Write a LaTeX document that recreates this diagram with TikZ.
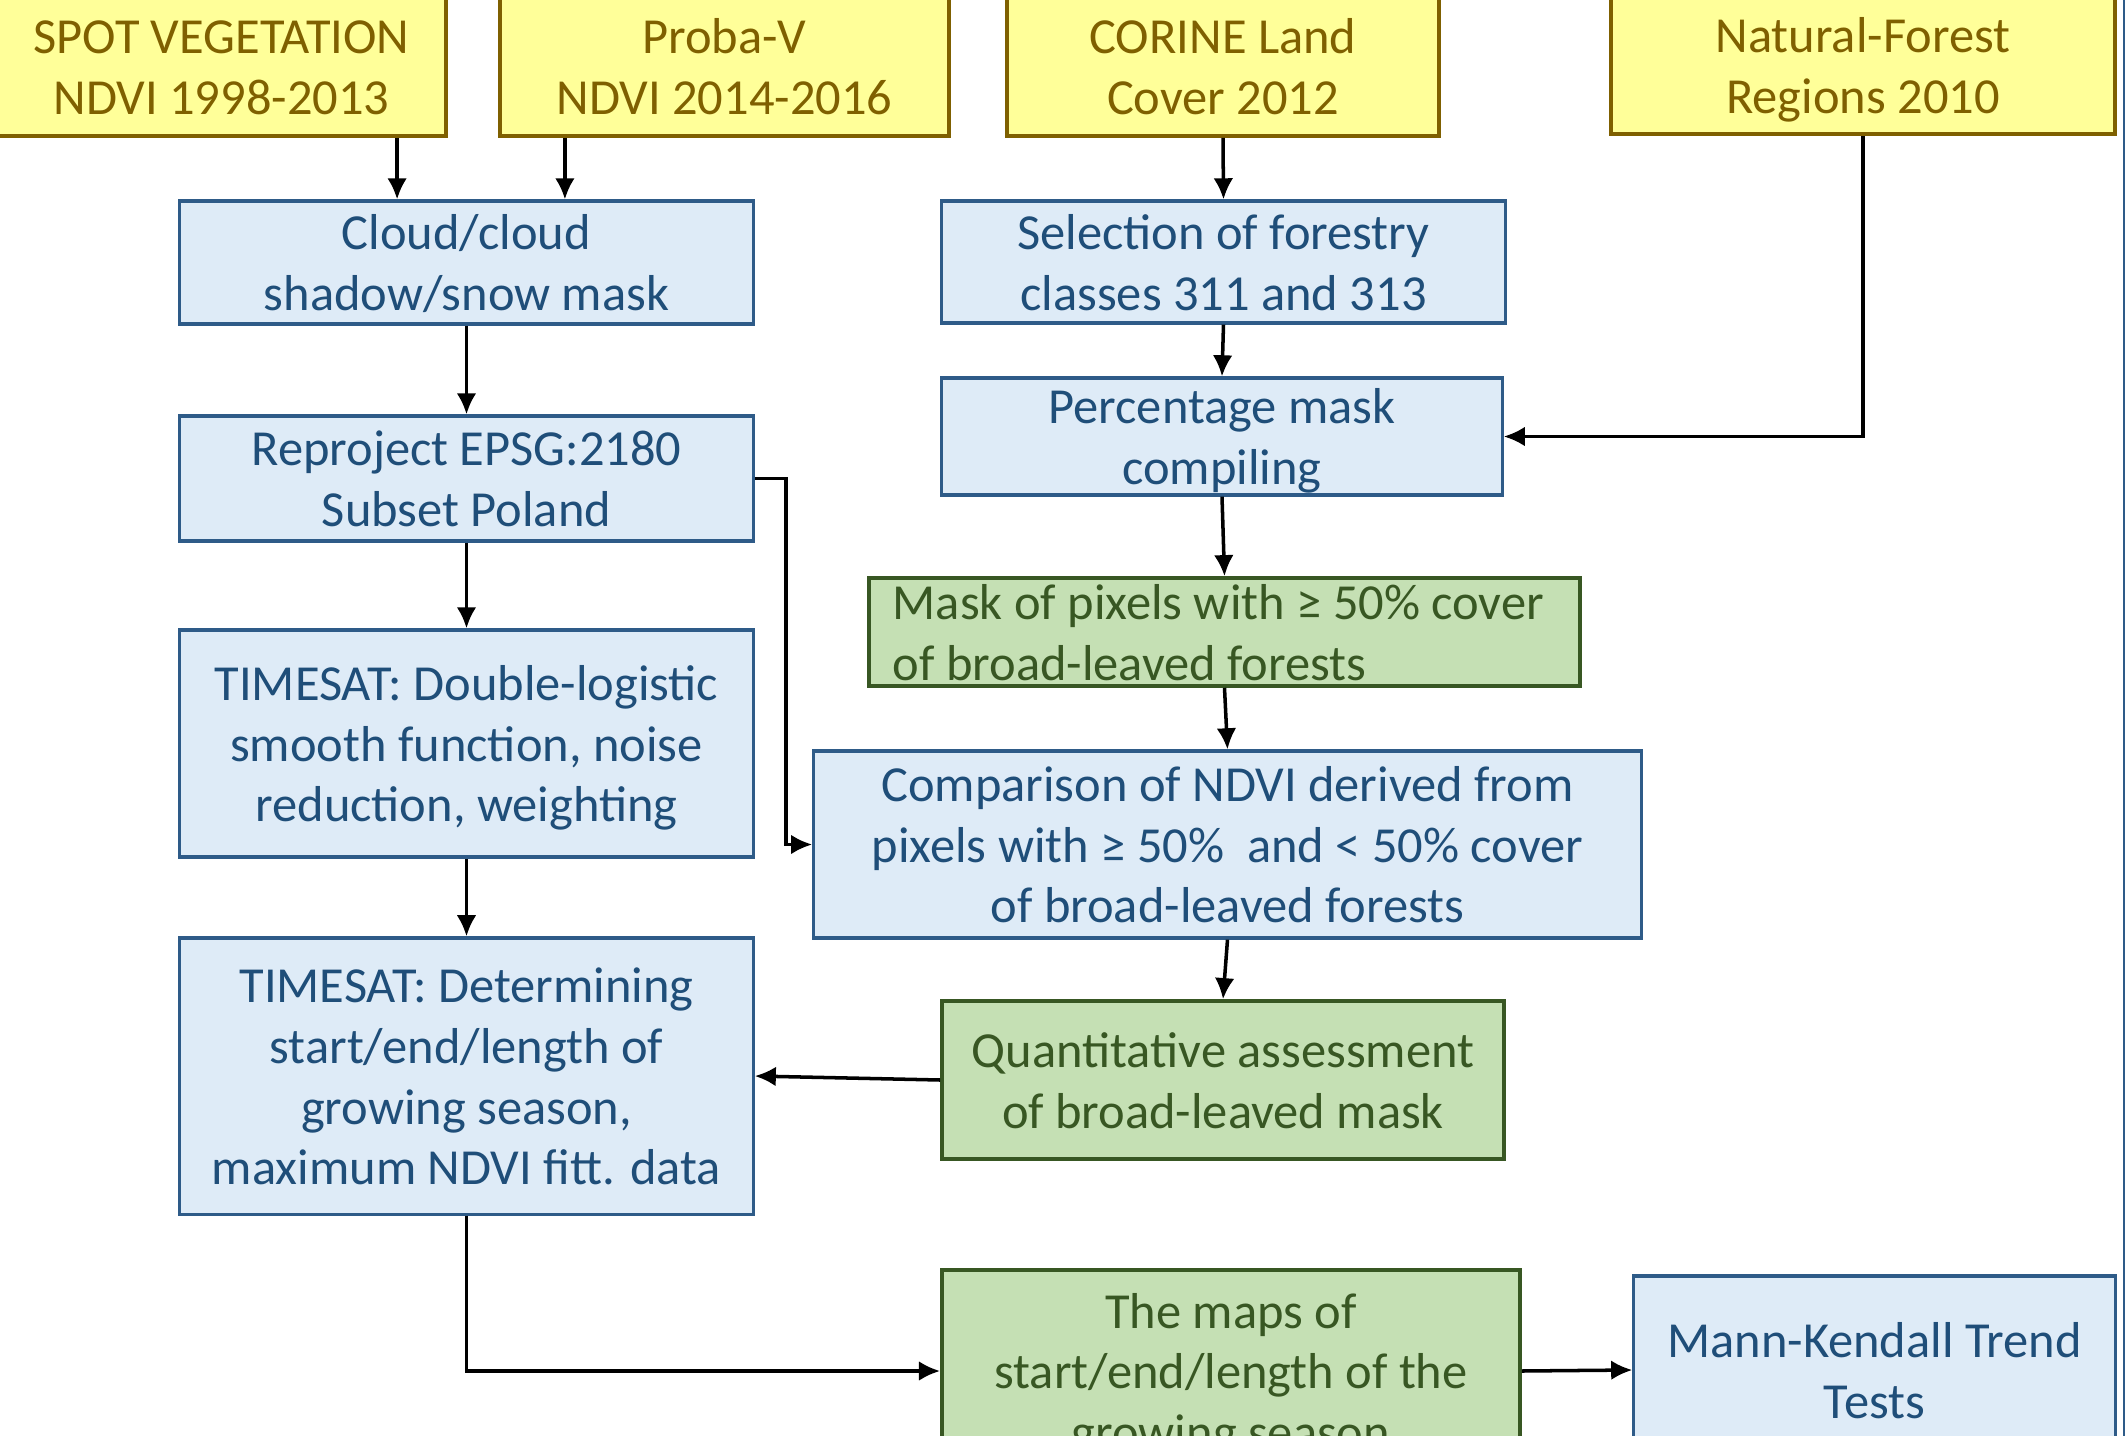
\documentclass[tikz,border=0pt]{standalone}
\usepackage{fontspec}
\setmainfont{Carlito}
\usepackage{xcolor}
\usetikzlibrary{arrows.meta}
\definecolor{srcfill}{HTML}{FFFF99}
\definecolor{srcline}{HTML}{7F6000}
\definecolor{procfill}{HTML}{DEEBF7}
\definecolor{procline}{HTML}{2E5B88}
\definecolor{proctext}{HTML}{1F4E79}
\definecolor{resfill}{HTML}{C5E0B4}
\definecolor{resline}{HTML}{385723}
% struts for first and last text line
\newcommand{\topstrut}{\rule{0pt}{14pt}}
\newcommand{\lowstrut}{\rule[-3.9pt]{0pt}{3.9pt}}
\tikzstyle{basebox} = [rectangle, inner xsep=0pt, inner ysep=-3pt, align=center,
font=\fontsize{14.35}{17.25}\selectfont]
\tikzstyle{srcbox} = [basebox, draw=srcline, fill=srcfill, text=srcline, line width=1.1pt]
\tikzstyle{procbox} = [basebox, draw=procline, fill=procfill, text=proctext, line width=0.9pt]
\tikzstyle{resbox} = [basebox, draw=resline, fill=resfill, text=resline, line width=1pt]
\tikzstyle{arr} = [-{Latex[length=6pt,width=5.6pt]}, line width=1pt, black]

\begin{document}
\begin{tikzpicture}[x=0.01cm, y=-0.01cm]
        \useasboundingbox (0,0) rectangle (2126,1436);
        \clip (0,0) rectangle (2126,1436);
        % input data
        \node [srcbox, minimum width=4.49cm, minimum height=1.39cm] (spot) at (221.5,66.5)
            {\topstrut SPOT VEGETATION\\NDVI 1998-2013\lowstrut};
        \node [srcbox, minimum width=4.49cm, minimum height=1.39cm] (proba) at (724.5,66.5)
            {\topstrut Proba-V\\NDVI 2014-2016\lowstrut};
        \node [srcbox, minimum width=4.32cm, minimum height=1.39cm] (corine) at (1223,66.5)
            {\topstrut CORINE Land\\Cover 2012\lowstrut};
        \node [srcbox, minimum width=5.04cm, minimum height=1.37cm] (natural) at (1863,65.5)
            {\topstrut Natural-Forest\\Regions 2010\lowstrut};
        % left column
        \node [procbox, minimum width=5.73cm, minimum height=1.23cm] (cloud) at (466.5,262.5)
            {\topstrut Cloud/cloud\\shadow/snow mask\lowstrut};
        \node [procbox, minimum width=5.73cm, minimum height=1.25cm] (reproj) at (466.5,478.5)
            {\topstrut Reproject EPSG:2180\\Subset Poland\lowstrut};
        \node [procbox, minimum width=5.73cm, minimum height=2.27cm] (smooth) at (466.5,743.5)
            {\topstrut TIMESAT: Double-logistic\\smooth function, noise\\reduction, weighting\lowstrut};
        \node [procbox, minimum width=5.73cm, minimum height=2.76cm] (season) at (466.5,1076)
            {\topstrut TIMESAT: Determining\\start/end/length of\\growing season,\\maximum NDVI fitt. data\lowstrut};
        % middle column
        \node [procbox, minimum width=5.63cm, minimum height=1.22cm] (select) at (1223.5,262)
            {\topstrut Selection of forestry\\classes 311 and 313\lowstrut};
        \node [procbox, minimum width=5.60cm, minimum height=1.17cm] (percent) at (1222,436.5)
            {\topstrut Percentage mask\\compiling\lowstrut};
        \node [resbox, align=left, inner xsep=0.24cm, text width=6.63cm, minimum height=1.08cm] (mask) at (1224.5,632)
            {\spaceskip=0pt\topstrut Mask of pixels with ≥ 50\% cover\\of broad-leaved forests\lowstrut};
        \node [procbox, minimum width=8.27cm, minimum height=1.87cm] (compare) at (1227.5,844.5)
            {\topstrut Comparison of NDVI derived from\\pixels with ≥ 50\%~ and < 50\% cover\\of broad-leaved forests\lowstrut};
        \node [resbox, minimum width=5.62cm, minimum height=1.58cm] (assess) at (1223,1080)
            {\topstrut Quantitative assessment\\of broad-leaved mask\lowstrut};
        \node [resbox, minimum width=5.78cm, minimum height=2.02cm] (maps) at (1231,1371)
            {\topstrut The maps of\\start/end/length of the\\growing season\lowstrut};
        \node [procbox, minimum width=4.81cm, minimum height=1.88cm] (trend) at (1874.5,1370)
            {\topstrut Mann-Kendall Trend\\Tests\lowstrut};
        % page edge
        \draw [procline, line width=0.6pt] (2124,0) -- (2124,1436);
        % connectors
        \draw [arr] ([xshift=1.755cm]spot.south) -- ([xshift=1.755cm]spot.south |- cloud.north);
        \draw [arr] ([xshift=-1.595cm]proba.south) -- ([xshift=-1.595cm]proba.south |- cloud.north);
        \draw [arr] (corine.south) -- (select.north);
        \draw [arr] (select.south) -- (percent.north);
        \draw [arr] (natural.south) |- (percent.east);
        \draw [arr] (cloud.south) -- (reproj.north);
        \draw [arr] (reproj.south) -- (smooth.north);
        \draw [arr] (reproj.east) -- ++(31,0) |- (compare.west);
        \draw [arr] (smooth.south) -- (season.north);
        \draw [arr] (percent.south) -- (mask.north);
        \draw [arr] (mask.south) -- (compare.north);
        \draw [arr] (compare.south) -- (assess.north);
        \draw [arr] (assess.west) -- (season.east);
        \draw [arr] (season.south) |- (maps.west);
        \draw [arr] (maps.east) -- (trend.west);
    \end{tikzpicture}
\end{document}
